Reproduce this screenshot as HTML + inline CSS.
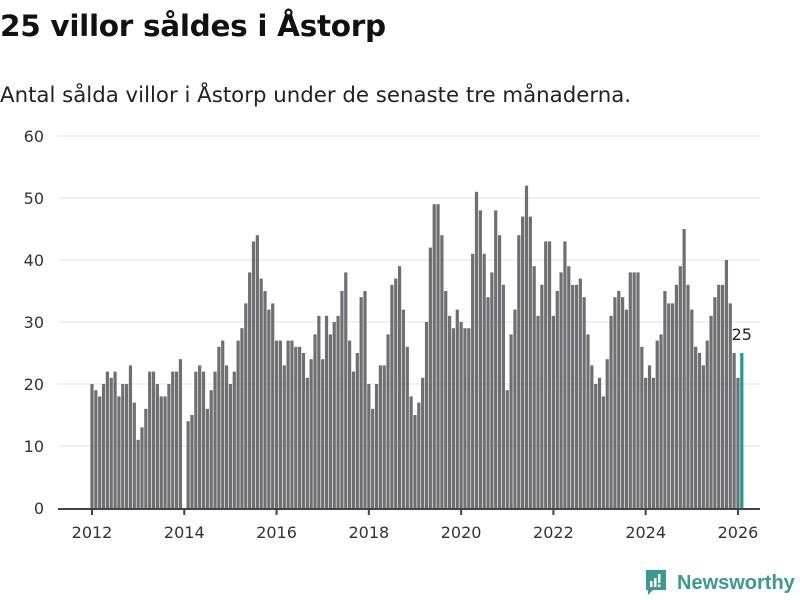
<!DOCTYPE html>
<html><head><meta charset="utf-8"><style>
body{margin:0;width:800px;height:600px;background:#fff;font-family:"Liberation Sans","DejaVu Sans",sans-serif;overflow:hidden;position:relative}
h1{position:absolute;left:0;top:9px;margin:0;font-size:29.5px;font-weight:bold;color:#111;font-family:"DejaVu Sans","Liberation Sans",sans-serif;letter-spacing:-0.3px}
.sub{position:absolute;left:0;top:83px;font-size:21.3px;color:#222;font-family:"DejaVu Sans","Liberation Sans",sans-serif}
svg{position:absolute;left:0;top:0}
</style></head><body>
<h1>25 villor såldes i Åstorp</h1>
<div class="sub">Antal sålda villor i Åstorp under de senaste tre månaderna.</div>
<svg id="chart" width="800" height="600"></svg>
<div style="position:absolute;left:644px;top:570px;display:flex;align-items:center">
<svg width="24" height="26" style="position:static" viewBox="0 0 24 26"><path d="M2 0h20v20H9l-5 5v-5H2z" fill="#3a9a92"/><rect x="6" y="11" width="2.5" height="6" fill="#fff"/><rect x="10" y="8" width="2.5" height="9" fill="#fff"/><rect x="14" y="4" width="2.5" height="9" fill="#fff"/><rect x="14" y="14.5" width="2.5" height="2.5" fill="#fff"/></svg>
<span style="margin-left:9px;font-size:20px;color:#3a9a92;font-family:'Liberation Sans',sans-serif;font-weight:bold">Newsworthy</span>
</div>
<script>
const values=[20,19,18,20,22,21,22,18,20,20,23,17,11,13,16,22,22,20,18,18,20,22,22,24,0,14,15,22,23,22,16,19,22,26,
27,23,20,22,27,29,33,38,43,44,37,35,32,33,27,27,23,27,27,26,26,25,21,24,28,31,24,31,28,30,31,35,38,
27,22,25,34,35,20,16,20,23,23,28,36,37,39,32,26,18,15,17,21,30,42,49,49,44,35,31,29,32,30,29,29,41,51,
48,41,34,38,48,44,36,19,28,32,44,47,52,47,39,31,36,43,43,31,35,38,43,39,36,36,37,34,28,23,20,21,18,24,
31,34,35,34,32,38,38,38,26,21,23,21,27,28,35,33,33,36,39,45,36,32,26,25,23,27,31,34,36,36,40,33,25,21,25];
const startYear=2012;
const yTicks=[0,10,20,30,40,50,60];
const xTicks=[2012,2014,2016,2018,2020,2022,2024,2026];
const svg=document.getElementById('chart');
const NS='http://www.w3.org/2000/svg';
const y=v=>508-v*6.2;
const x=yr=>92+(yr-2012)*46.14;
function mk(t,a){const e=document.createElementNS(NS,t);for(const k in a)e.setAttribute(k,a[k]);svg.appendChild(e);return e;}
yTicks.forEach(t=>{
  if(t>0){const g=mk('line',{x1:58,x2:760,y1:y(t),y2:y(t),stroke:'#e0e0e0','stroke-width':1});
  
  }
  const l=mk('text',{x:44,y:y(t)+6,'text-anchor':'end','font-size':16,fill:'#333','font-family':'DejaVu Sans, Liberation Sans, sans-serif'});
  l.textContent=t;
  
  
});
values.forEach((v,i)=>{
  const cx=x(startYear+i/12);
  const last=i===values.length-1;
  const r=mk('rect',{x:cx-1.6,y:y(v),width:3.2,height:508-y(v),fill:last?'#1a9c95':'#6f6e73'});
  
  
  if(last){const t=mk('text',{x:cx,y:y(v)-13,'text-anchor':'middle','font-size':16,fill:'#222','font-family':'DejaVu Sans, Liberation Sans, sans-serif'});
  t.textContent=v;
  
  }
});
const ax=mk('line',{x1:58,x2:760,y1:509,y2:509,stroke:'#444','stroke-width':2});


xTicks.forEach(t=>{
  const tk=mk('line',{x1:x(t),x2:x(t),y1:509,y2:515,stroke:'#444','stroke-width':2});
  
  
  const l=mk('text',{x:x(t),y:538,'text-anchor':'middle','font-size':16,fill:'#333','font-family':'DejaVu Sans, Liberation Sans, sans-serif'});
  l.textContent=t;
  
  
});
</script>
</body></html>
